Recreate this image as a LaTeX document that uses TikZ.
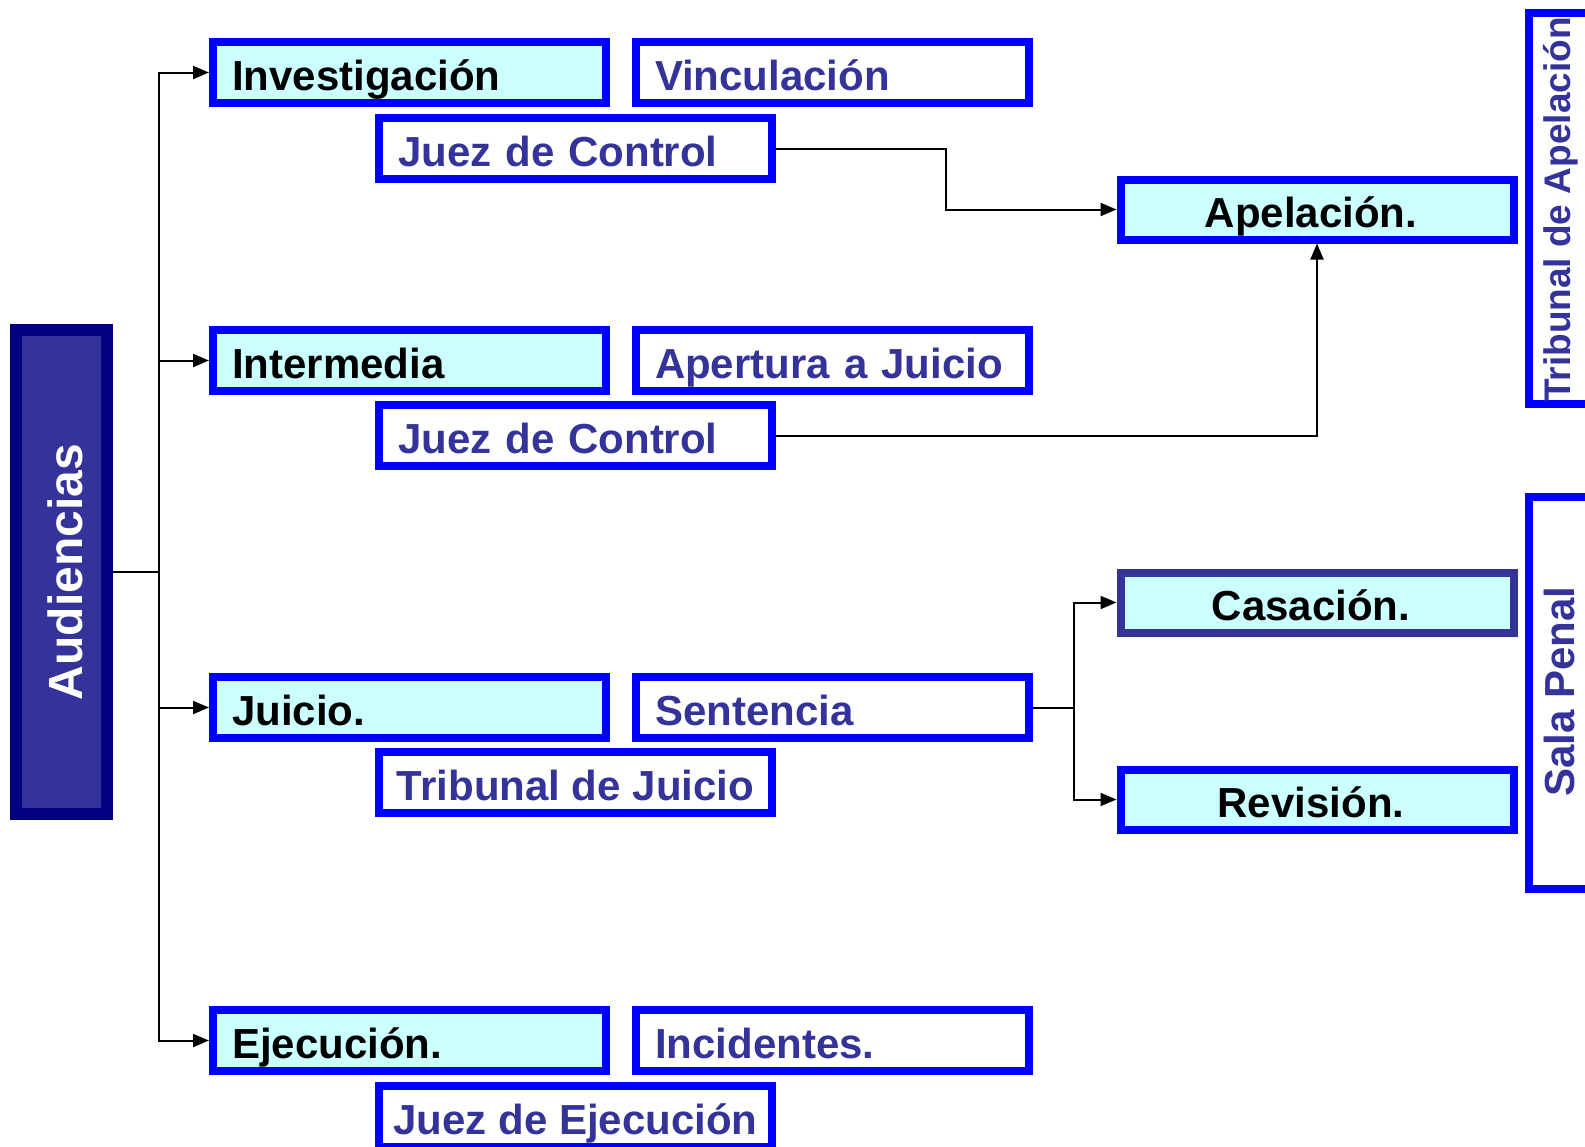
\documentclass[tikz,border=0pt]{standalone}
\usepackage{fontspec}
\setmainfont{Liberation Sans}
\usetikzlibrary{arrows.meta,calc}
\definecolor{boxblue}{HTML}{0000FF}
\definecolor{textblue}{HTML}{333399}
\definecolor{cyanfill}{HTML}{CCFFFF}
\definecolor{navyborder}{HTML}{000080}
\definecolor{audfill}{HTML}{333399}
\newcommand\fsz{\fontsize{42}{50}\selectfont\bfseries}
\tikzset{
  conn/.style={line width=2pt, draw=black},
  arr/.style={conn, -{Triangle[length=16pt,width=13pt]}},
  basebox/.style={draw=boxblue, line width=8pt, inner xsep=19pt, inner ysep=0pt,
    minimum width=393pt, minimum height=61pt, text height=35pt, text depth=0pt, font=\fsz},
  leftt/.style={text width=355pt, align=left},
  stage/.style={basebox, fill=cyanfill, text=black, leftt},
  info/.style={basebox, fill=white, text=textblue, leftt},
  infoc/.style={basebox, fill=white, text=textblue, inner xsep=3pt},
  recur/.style={basebox, fill=cyanfill, text=black, minimum height=60pt},
  sidebox/.style={draw=boxblue, line width=8pt, fill=white, minimum width=112pt, inner sep=0pt},
  sidetext/.style={rotate=90, anchor=base west, inner sep=0pt, text=textblue},
}
\begin{document}
\begin{tikzpicture}[x=1pt,y=1pt]
\useasboundingbox (0,0) rectangle (1585,-1146);

% Audiencias
\node[rotate=90, draw=navyborder, fill=audfill, line width=12pt, minimum width=484pt,
  minimum height=91pt, inner sep=0pt, text=white, text height=41pt, text depth=0pt,
  font=\fontsize{48}{56}\selectfont\bfseries] (aud) at (61.5,-572) {Audiencias};

% column 1 stages
\node[stage] (inv) at (409.5,-72.5) {Investigación};
\node[stage] (int) at (409.5,-360.5) {Intermedia};
\node[stage] (jui) at (409.5,-707.5) {Juicio.};
\node[stage] (eje) at (409.5,-1040.5) {Ejecución.};

% column 2
\node[info] (vin) at (832.5,-72.5) {Vinculación};
\node[info] (ape2) at (832.5,-360.5) {Apertura a Juicio};
\node[info] (sen) at (832.5,-707.5) {Sentencia};
\node[info] (inc) at (832.5,-1040.5) {Incidentes.};

% judges
\node[info] (jc1) at (575.5,-148.5) {Juez de Control};
\node[info] (jc2) at (575.5,-435.5) {Juez de Control};
\node[infoc] (tju) at (575.5,-782.5) {Tribunal de Juicio};
\node[infoc] (jej) at (575.5,-1116.5) {Juez de Ejecución};

% recursos
\node[recur] (ape) at (1317,-209.5) {\hspace*{-12pt}Apelación.};
\node[recur, draw=textblue] (cas) at (1317,-602.5) {\hspace*{-12pt}Casación.};
\node[recur] (rev) at (1317,-799.5) {\hspace*{-12pt}Revisión.};

% side tribunals
\node[sidebox, minimum height=391pt] (tap) at (1585,-208.5) {};
\node[sidebox, minimum height=392pt] (sal) at (1585,-693) {};
\node[sidetext, font=\fontsize{37}{45}\selectfont\bfseries] (taptxt) at (1570,-402) {Tribunal de Apelación};
\node[sidetext, font=\fontsize{42}{50}\selectfont\bfseries] (saltxt) at (1574,-797) {Sala Penal};

% connectors
\coordinate (trk) at (159,-572);
\draw[conn] (aud.south) -- (trk);
\draw[arr] (trk) |- (inv.west);
\draw[arr] (trk) |- (int.west);
\draw[arr] (trk) |- (jui.west);
\draw[arr] (trk) |- (eje.west);

\coordinate (k1) at (946,-148.5);
\draw[arr] (jc1.east) -- (k1) |- (ape.west);
\draw[arr] (jc2.east) -| (ape.south);

\coordinate (br) at (1074,-707.5);
\draw[conn] (sen.east) -- (br);
\draw[arr] (br) |- (cas.west);
\draw[arr] (br) |- (rev.west);
\end{tikzpicture}
\end{document}
